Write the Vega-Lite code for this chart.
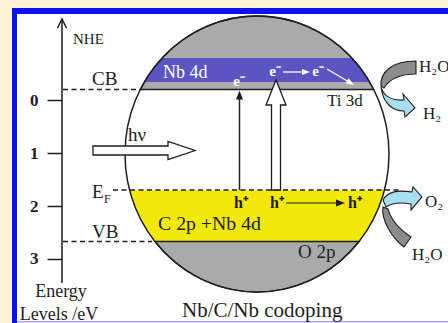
{
  "$schema": "https://vega.github.io/schema/vega-lite/v6.json",
  "width": 448,
  "height": 323,
  "padding": 0,
  "autosize": {"type": "none"},
  "background": "#fcf0d6",
  "config": {"view": {"stroke": null}, "axis": {"labelFont": "Liberation Serif", "labelFontWeight": "bold"}, "text": {"font": "Liberation Serif", "baseline": "alphabetic", "color": "#1e1e1e"}},
  "encoding": {
    "x": {"field": "x", "type": "quantitative", "scale": {"domain": [0, 448], "nice": false, "zero": false}, "axis": null},
    "y": {"field": "y", "type": "quantitative", "scale": {"domain": [-1.9034, 4.214], "reverse": true, "nice": false, "zero": false},
      "axis": {"orient": "left", "offset": -62, "values": [0, 1, 2, 3], "format": "d", "domain": false, "grid": false, "ticks": true, "tickSize": 15, "tickWidth": 1.5, "tickColor": "#1e1e1e", "labelFont": "Liberation Serif", "labelFontWeight": "bold", "labelFontSize": 17, "labelColor": "#1e1e1e", "labelPadding": 9, "title": null, "zindex": 1}}
  },
  "layer": [
    {"data": {"values": [
      {"part": "border", "x": 12, "x2": 448, "y": -1.752, "y2": 4.214},
      {"part": "inside", "x": 17, "x2": 448, "y": -1.638, "y2": 4.186},
      {"part": "base", "x": 17, "x2": 448, "y": 4.186, "y2": 4.214}]},
     "mark": {"type": "rect"},
     "encoding": {"x2": {"field": "x2"}, "y2": {"field": "y2"},
       "color": {"field": "part", "type": "nominal", "scale": {"domain": ["border", "inside", "base"], "range": ["#0c12ee", "#ffffff", "#d4cef6"]}, "legend": null}}},
    {"data": {"values": [{"x": 257, "y": 1.0133}]},
     "mark": {"type": "point", "shape": "M -116.7 -64.5 A 132 138 0 0 1 116.7 -64.5 Z", "size": 4, "filled": true, "fill": "#aaaaaa", "stroke": "#1e1e1e", "strokeWidth": 1.3, "opacity": 1}},
    {"data": {"values": [{"x": 257, "y": 1.0133}]},
     "mark": {"type": "point", "shape": "M -94.8 -96 L 94.8 -96 A 132 138 0 0 1 112.6 -72 L -112.6 -72 A 132 138 0 0 1 -94.8 -96 Z", "size": 4, "filled": true, "fill": "#5a55c2", "strokeWidth": 0, "opacity": 1}},
    {"data": {"values": [{"x": 257, "y": 1.0133}]},
     "mark": {"type": "point", "shape": "M -127.4 36 L 127.4 36 A 132 138 0 0 1 102.1 87.5 L -102.1 87.5 A 132 138 0 0 1 -127.4 36 Z", "size": 4, "filled": true, "fill": "#f2e80c", "strokeWidth": 0, "opacity": 1}},
    {"data": {"values": [{"x": 257, "y": 1.0133}]},
     "mark": {"type": "point", "shape": "M -102.1 87.5 L 102.1 87.5 A 132 138 0 0 1 -102.1 87.5 Z", "size": 4, "filled": true, "fill": "#aaaaaa", "stroke": "#1e1e1e", "strokeWidth": 1.3, "opacity": 1}},
    {"data": {"values": [{"x": 257, "y": 1.0133}]},
     "mark": {"type": "point", "shape": "M -132 0 A 132 138 0 1 1 132 0 A 132 138 0 1 1 -132 0 Z", "size": 4, "filled": false, "stroke": "#1e1e1e", "strokeWidth": 1.5, "opacity": 1}},
    {"data": {"values": [
      {"x": 63, "x2": 141, "y": -0.208},
      {"x": 113, "x2": 400, "y": 1.695},
      {"x": 63, "x2": 152, "y": 2.670}]},
     "mark": {"type": "rule", "color": "#1e1e1e", "strokeWidth": 1.5, "strokeDash": [5, 3.5]},
     "encoding": {"x2": {"field": "x2"}}},
    {"data": {"values": [
      {"x": 62, "y": -1.53, "y2": 3.456},
      {"x": 239.5, "y": 1.695, "y2": -0.066}]},
     "mark": {"type": "rule", "color": "#1e1e1e", "strokeWidth": 1.5},
     "encoding": {"y2": {"field": "y2"}}},
    {"data": {"values": [{"x": 62, "y": -1.544}]},
     "mark": {"type": "point", "shape": "M -4.5 9 L 0 0 L 4.5 9", "size": 4, "filled": false, "stroke": "#1e1e1e", "strokeWidth": 1.5, "opacity": 1}},
    {"data": {"values": [{"x": 239.5, "y": -0.189}]},
     "mark": {"type": "point", "shape": "M 0 0 L 3.5 9 L -3.5 9 Z", "size": 4, "filled": true, "fill": "#1e1e1e", "strokeWidth": 0, "opacity": 1}},
    {"data": {"values": [{"x": 286, "x2": 338, "y": 1.941}]},
     "mark": {"type": "rule", "color": "#1e1e1e", "strokeWidth": 1.2},
     "encoding": {"x2": {"field": "x2"}}},
    {"data": {"values": [{"x": 345, "y": 1.941}]},
     "mark": {"type": "point", "shape": "M 0 0 L -9 -3.5 L -9 3.5 Z", "size": 4, "filled": true, "fill": "#1e1e1e", "strokeWidth": 0, "opacity": 1}},
    {"data": {"values": [{"x": 93, "y": 0.947}]},
     "mark": {"type": "point", "shape": "M 0 -4.5 L 75 -4.5 L 75 -9 L 102 0 L 75 9 L 75 4.5 L 0 4.5 Z", "size": 4, "filled": true, "fill": "#ffffff", "stroke": "#1e1e1e", "strokeWidth": 1.3, "opacity": 1}},
    {"data": {"values": [{"x": 276, "y": 1.695}]},
     "mark": {"type": "point", "shape": "M -4.5 0 L -4.5 -85 L -10 -85 L 0 -110 L 10 -85 L 4.5 -85 L 4.5 0 Z", "size": 4, "filled": true, "fill": "#ffffff", "stroke": "#1e1e1e", "strokeWidth": 1.3, "opacity": 1}},
    {"data": {"values": [{"x": 283, "x2": 304, "y": -0.540}]},
     "mark": {"type": "rule", "color": "#ffffff", "strokeWidth": 1.3},
     "encoding": {"x2": {"field": "x2"}}},
    {"data": {"values": [{"x": 310, "y": -0.540}]},
     "mark": {"type": "point", "shape": "M 0 0 L -8 -3 L -8 3 Z", "size": 4, "filled": true, "fill": "#ffffff", "strokeWidth": 0, "opacity": 1}},
    {"data": {"values": [{"x": 327, "x2": 349, "y": -0.597, "y2": -0.350}]},
     "mark": {"type": "rule", "color": "#ffffff", "strokeWidth": 1.3},
     "encoding": {"x2": {"field": "x2"}, "y2": {"field": "y2"}}},
    {"data": {"values": [{"x": 354, "y": -0.294}]},
     "mark": {"type": "point", "shape": "M 0 0 L -8 -3 L -8 3 Z", "angle": 31, "size": 4, "filled": true, "fill": "#ffffff", "strokeWidth": 0, "opacity": 1}},
    {"data": {"values": [{"x": 400, "y": -0.199}]},
     "mark": {"type": "point", "shape": "M 16 -29 L 16 -16 C 0 -16 -10 -12 -16 -2 L -19 -4 C -20 -18 -8 -29 16 -29 Z", "size": 4, "filled": true, "fill": "#8c8c8c", "stroke": "#1e1e1e", "strokeWidth": 1.1, "opacity": 1}},
    {"data": {"values": [{"x": 400, "y": -0.199}]},
     "mark": {"type": "point", "shape": "M -19 -3 C -16 7 -7 11 4 10 L 3 4 L 15 18 L 5 27 L 4 21 C -8 21 -17 13 -19 -3 Z", "size": 4, "filled": true, "fill": "#a9def0", "stroke": "#1e1e1e", "strokeWidth": 1.1, "opacity": 1}},
    {"data": {"values": [{"x": 400, "y": 1.884}]},
     "mark": {"type": "point", "shape": "M -17 0 C -12 -9 -2 -10 12 -8 L 13 -13 L 22 -3 L 11 10 L 11 4 C 0 2 -8 3 -14 7 Z", "size": 4, "filled": true, "fill": "#a9def0", "stroke": "#1e1e1e", "strokeWidth": 1.1, "opacity": 1}},
    {"data": {"values": [{"x": 400, "y": 1.884}]},
     "mark": {"type": "point", "shape": "M -17 7 C -19 20 -8 38 4 47 L 11 37 C 0 30 -9 20 -12 9 Z", "size": 4, "filled": true, "fill": "#8c8c8c", "stroke": "#1e1e1e", "strokeWidth": 1.1, "opacity": 1}},
    {"data": {"values": [
      {"x": 92, "y": -0.294, "t": "CB"},
      {"x": 92, "y": 1.847, "t": "E"},
      {"x": 92, "y": 2.604, "t": "VB"},
      {"x": 128, "y": 0.767, "t": "hν"},
      {"x": 298, "y": 2.983, "t": "O 2p"}]},
     "mark": {"type": "text", "fontSize": 19, "align": "left"},
     "encoding": {"text": {"field": "t"}}},
    {"data": {"values": [{"x": 158, "y": 2.462, "t": "C 2p +Nb 4d"}]},
     "mark": {"type": "text", "fontSize": 19.8, "align": "left"},
     "encoding": {"text": {"field": "t"}}},
    {"data": {"values": [{"x": 73, "y": -1.070, "t": "NHE"}]},
     "mark": {"type": "text", "fontSize": 15, "align": "left"},
     "encoding": {"text": {"field": "t"}}},
    {"data": {"values": [{"x": 104, "y": 1.941, "t": "F"}]},
     "mark": {"type": "text", "fontSize": 12, "align": "left"},
     "encoding": {"text": {"field": "t"}}},
    {"data": {"values": [
      {"x": 327, "y": 0.104, "t": "Ti 3d"},
      {"x": 419, "y": -0.540, "t": "H₂O"},
      {"x": 423, "y": 0.350, "t": "H₂"},
      {"x": 425, "y": 2.017, "t": "O₂"},
      {"x": 412, "y": 3.021, "t": "H₂O"}]},
     "mark": {"type": "text", "fontSize": 17, "align": "left"},
     "encoding": {"text": {"field": "t"}}},
    {"data": {"values": [
      {"x": 61, "y": 3.722, "t": "Energy"},
      {"x": 59, "y": 4.157, "t": "Levels /eV"}]},
     "mark": {"type": "text", "fontSize": 18, "align": "center"},
     "encoding": {"text": {"field": "t"}}},
    {"data": {"values": [{"x": 182, "y": 4.100, "t": "Nb/C/Nb codoping"}]},
     "mark": {"type": "text", "fontSize": 21, "align": "left"},
     "encoding": {"text": {"field": "t"}}},
    {"data": {"values": [{"x": 163, "y": -0.426, "t": "Nb 4d"}]},
     "mark": {"type": "text", "fontSize": 18, "align": "left", "color": "#ffffff"},
     "encoding": {"text": {"field": "t"}}},
    {"data": {"values": [
      {"x": 239, "y": -0.275, "t": "e⁻"},
      {"x": 275, "y": -0.464, "t": "e⁻"},
      {"x": 318, "y": -0.464, "t": "e⁻"}]},
     "mark": {"type": "text", "fontSize": 15, "fontWeight": "bold", "align": "center", "color": "#ffffff"},
     "encoding": {"text": {"field": "t"}}},
    {"data": {"values": [
      {"x": 241, "y": 2.036, "t": "h⁺"},
      {"x": 277, "y": 2.036, "t": "h⁺"},
      {"x": 355, "y": 2.036, "t": "h⁺"}]},
     "mark": {"type": "text", "fontSize": 16, "fontWeight": "bold", "align": "center"},
     "encoding": {"text": {"field": "t"}}}
  ]
}
